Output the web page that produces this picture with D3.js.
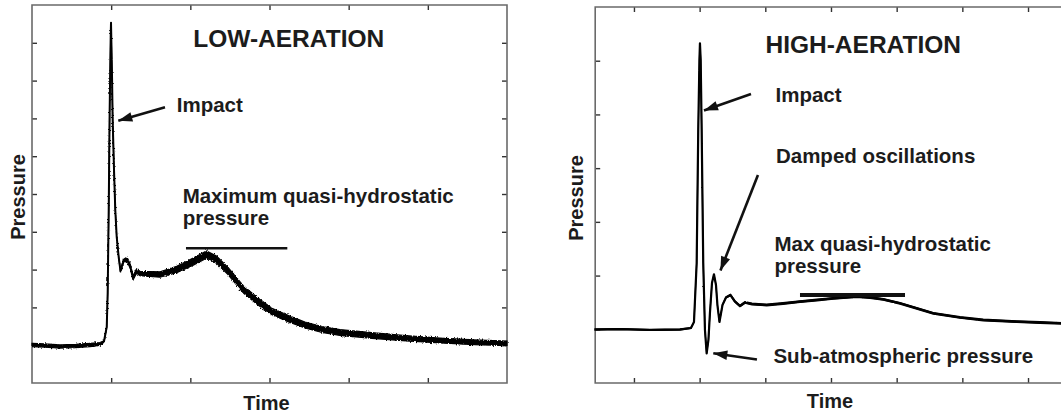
<!DOCTYPE html>
<html>
<head>
<meta charset="utf-8">
<script src="https://cdn.jsdelivr.net/npm/d3@7"></script>
<style>
  body { margin: 0; background: #fff; }
  svg text { font-family: "Liberation Sans", Arial, Helvetica, sans-serif; font-weight: bold; fill: #1c1c1c; }
</style>
</head>
<body>
<svg id="chart" width="1061" height="416"></svg>
<script>
// ---- Low-aeration pressure record (arbitrary units) ----
const lowTime = [0, 0.164, 0.354, 0.543, 0.733, 0.859, 0.909, 0.944, 0.956, 0.969, 0.981, 0.994, 0.998,
  1.011, 1.019, 1.036, 1.052, 1.070, 1.095, 1.118, 1.156, 1.200, 1.244, 1.276, 1.320, 1.364, 1.490, 1.617,
  1.828, 2.037, 2.204, 2.330, 2.476, 2.671, 2.855, 3.031, 3.234, 3.448, 3.663, 3.890, 4.294, 4.724, 5.153,
  5.583, 6.0];
const lowPressure = [1.005, 0.992, 0.966, 0.979, 1.005, 1.032, 1.098, 1.481, 2.381, 4.577, 7.222, 9.153, 9.532,
  8.095, 6.958, 5.635, 4.577, 3.862, 3.333, 2.963, 3.228, 3.280, 3.069, 2.778, 2.963, 2.897, 2.884, 2.870,
  3.003, 3.214, 3.399, 3.267, 2.963, 2.474, 2.156, 1.892, 1.706, 1.534, 1.415, 1.336, 1.257, 1.183, 1.124,
  1.077, 1.050];
// width of the measurement noise band around the trace
const lowSpread = [0.085, 0.085, 0.085, 0.085, 0.085, 0.075, 0.04, 0, 0, 0, 0, 0, 0,
  0, 0, 0, 0, 0, 0, 0.07, 0.09, 0.10, 0.11, 0.11, 0.115, 0.12, 0.13, 0.145,
  0.17, 0.19, 0.19, 0.19, 0.19, 0.19, 0.18, 0.17, 0.165, 0.16, 0.16, 0.155, 0.15, 0.14, 0.13,
  0.125, 0.12];
const lowTicksX = [1, 2, 3, 4, 5];
const lowTicksY = [1, 2, 3, 4, 5, 6, 7, 8, 9];

// ---- High-aeration pressure record (arbitrary units) ----
const highTime = [0.406, 0.787, 1.244, 1.700, 1.868, 1.914, 1.955, 1.979, 1.997, 2.005, 2.016, 2.031, 2.055,
  2.081, 2.107, 2.134, 2.157, 2.188, 2.218, 2.249, 2.271, 2.302, 2.348, 2.401, 2.470, 2.538, 2.614, 2.690,
  2.797, 3.021, 3.269, 3.528, 3.787, 4.035, 4.391, 4.594, 4.796, 5.051, 5.305, 5.558, 5.964, 6.319, 6.828,
  7.183, 7.502];
const highPressure = [0.996, 1.005, 0.987, 0.996, 1.024, 1.136, 2.234, 4.711, 6.014, 6.325, 6.014, 4.711, 2.234,
  0.987, 0.553, 0.801, 1.303, 1.862, 2.024, 1.825, 1.452, 1.136, 1.452, 1.592, 1.638, 1.517, 1.434, 1.499,
  1.471, 1.452, 1.480, 1.514, 1.545, 1.577, 1.607, 1.592, 1.558, 1.484, 1.391, 1.298, 1.220, 1.173, 1.141,
  1.126, 1.112];
const highSpread = [0.02, 0.02, 0.02, 0.02, 0.015, 0, 0, 0, 0, 0, 0, 0, 0,
  0, 0, 0, 0, 0, 0, 0, 0, 0, 0.01, 0.02, 0.025, 0.03, 0.03, 0.03,
  0.03, 0.03, 0.03, 0.03, 0.03, 0.03, 0.03, 0.03, 0.03, 0.03, 0.03, 0.03, 0.03, 0.03, 0.03,
  0.03, 0.03];
const highTicksX = [1, 2, 3, 4, 5, 6, 7];
const highTicksY = [1, 2, 3, 4, 5, 6];

// ---- Annotation text, arrows and reference bars (data units) ----
const lowLabels = [
  { text: "LOW-AERATION", t: 2.037, p: 8.897, size: 24.5 },
  { text: "Impact", t: 1.828, p: 7.177, size: 20.5 },
  { text: "Maximum quasi-hydrostatic", t: 1.903, p: 4.754, size: 20.5 },
  { text: "pressure", t: 1.903, p: 4.193, size: 20.5 }
];
const lowArrows = [{ t0: 1.680, p0: 7.294, t1: 1.090, p1: 6.939 }];
const lowBars = [{ t0: 1.945, t1: 3.225, p: 3.563, w: 2.6 }];

const highLabels = [
  { text: "HIGH-AERATION", t: 3.002, p: 6.138, size: 24.5 },
  { text: "Impact", t: 3.155, p: 5.237, size: 20.5 },
  { text: "Damped oscillations", t: 3.162, p: 4.090, size: 20.5 },
  { text: "Max quasi-hydrostatic", t: 3.139, p: 2.463, size: 20.5 },
  { text: "pressure", t: 3.139, p: 2.039, size: 20.5 },
  { text: "Sub-atmospheric pressure", t: 3.124, p: 0.367, size: 20.5 }
];
const highArrows = [
  { t0: 2.782, p0: 5.380, t1: 2.066, p1: 5.074 },
  { t0: 2.888, p0: 3.873, t1: 2.317, p1: 2.095 },
  { t0: 2.873, p0: 0.438, t1: 2.208, p1: 0.553 }
];
const highBars = [{ t0: 3.528, t1: 5.127, p: 1.638, w: 4 }];

const svg = d3.select("#chart");
const defs = svg.append("defs");

// filled arrowhead
defs.append("marker")
  .attr("id", "head")
  .attr("markerUnits", "userSpaceOnUse")
  .attr("viewBox", "-15 -6 16 12")
  .attr("refX", 0).attr("refY", 0)
  .attr("markerWidth", 16).attr("markerHeight", 12)
  .attr("orient", "auto")
  .append("path")
  .attr("d", "M0,0 L-14,-4.8 L-14,4.8 Z")
  .attr("fill", "#111");

// ragged edge for the sampled-noise band
function roughFilter(id, scale) {
  const f = defs.append("filter").attr("id", id)
    .attr("x", "-2%").attr("y", "-10%").attr("width", "104%").attr("height", "120%");
  f.append("feTurbulence").attr("type", "fractalNoise").attr("baseFrequency", "0.8 0.6")
    .attr("numOctaves", 2).attr("seed", 7).attr("result", "n");
  f.append("feDisplacementMap").attr("in", "SourceGraphic").attr("in2", "n")
    .attr("scale", scale).attr("xChannelSelector", "R").attr("yChannelSelector", "G");
}
roughFilter("roughLow", 3.2);
roughFilter("roughHigh", 1.6);

function drawPanel(cfg) {
  const g = svg.append("g");
  const x = d3.scaleLinear().domain(cfg.xDomain).range(cfg.xRange);
  const y = d3.scaleLinear().domain(cfg.yDomain).range(cfg.yRange);
  const [x0, x1] = cfg.xRange;
  const [yb, yt] = cfg.yRange;

  // inward ticks on the frame sides
  const tick = 5;
  const axes = [
    { ax: d3.axisBottom(x).tickValues(cfg.ticksX), tr: `translate(0,${yb})` },
    { ax: d3.axisTop(x).tickValues(cfg.ticksX), tr: `translate(0,${yt})` },
    { ax: d3.axisLeft(y).tickValues(cfg.ticksY), tr: `translate(${x0},0)` }
  ];
  if (cfg.rightTicks) axes.push({ ax: d3.axisRight(y).tickValues(cfg.ticksY), tr: `translate(${x1},0)` });
  axes.forEach(a => {
    const s = g.append("g").attr("transform", a.tr)
      .call(a.ax.tickSize(-tick).tickFormat(""));
    s.select(".domain").remove();
    s.selectAll("line").attr("stroke", "#333").attr("stroke-width", 1.4);
  });

  // frame
  const frame = g.append("path")
    .attr("fill", "none").attr("stroke", "#6a6a6a").attr("stroke-width", 1.6);
  if (cfg.rightTicks) {
    frame.attr("d", `M${x0},${yt}H${x1}V${yb}H${x0}Z`);
  } else {
    frame.attr("d", `M${x1},${yt}H${x0}V${yb}H${x1}`);
  }

  // trace: noise band plus the centre line
  const pts = cfg.time.map((t, i) => ({ t, p: cfg.pressure[i], s: cfg.spread[i] }));
  g.append("path").datum(pts)
    .attr("fill", "#000")
    .attr("stroke", "#000").attr("stroke-width", 1.2)
    .attr("filter", `url(#${cfg.rough})`)
    .attr("d", d3.area().x(d => x(d.t)).y0(d => y(d.p - d.s / 2)).y1(d => y(d.p + d.s / 2)));
  g.append("path").datum(pts)
    .attr("fill", "none").attr("stroke", "#000").attr("stroke-width", cfg.lineWidth)
    .attr("stroke-linejoin", "round")
    .attr("d", d3.line().x(d => x(d.t)).y(d => y(d.p)));

  // reference bars
  g.selectAll(null).data(cfg.bars).enter().append("line")
    .attr("x1", d => x(d.t0)).attr("x2", d => x(d.t1))
    .attr("y1", d => y(d.p)).attr("y2", d => y(d.p))
    .attr("stroke", "#111").attr("stroke-width", d => d.w);

  // arrows
  g.selectAll(null).data(cfg.arrows).enter().append("line")
    .attr("x1", d => x(d.t0)).attr("y1", d => y(d.p0))
    .attr("x2", d => x(d.t1)).attr("y2", d => y(d.p1))
    .attr("stroke", "#111").attr("stroke-width", 2.6)
    .attr("marker-end", "url(#head)");

  // annotation text
  g.selectAll(null).data(cfg.labels).enter().append("text")
    .attr("x", d => x(d.t)).attr("y", d => y(d.p))
    .style("font-size", d => d.size + "px")
    .text(d => d.text);

  // axis titles
  g.append("text")
    .attr("transform", `translate(${cfg.yTitleX},${cfg.yTitleY}) rotate(-90)`)
    .attr("text-anchor", "middle").style("font-size", "20px")
    .text("Pressure");
  g.append("text")
    .attr("x", cfg.xTitleX).attr("y", cfg.xTitleY)
    .attr("text-anchor", "middle").style("font-size", "20px")
    .text("Time");
}

drawPanel({
  xDomain: [0, 6], xRange: [32, 507],
  yDomain: [0, 10], yRange: [383, 5],
  ticksX: lowTicksX, ticksY: lowTicksY, rightTicks: true,
  time: lowTime, pressure: lowPressure, spread: lowSpread, lineWidth: 2, rough: "roughLow",
  labels: lowLabels, arrows: lowArrows, bars: lowBars,
  yTitleX: 25, yTitleY: 197, xTitleX: 266.5, xTitleY: 410
});

drawPanel({
  xDomain: [0.41, 7.7], xRange: [595.2, 1074],
  yDomain: [0, 7], yRange: [383, 7],
  ticksX: highTicksX, ticksY: highTicksY, rightTicks: false,
  time: highTime, pressure: highPressure, spread: highSpread, lineWidth: 2.2, rough: "roughHigh",
  labels: highLabels, arrows: highArrows, bars: highBars,
  yTitleX: 583, yTitleY: 198, xTitleX: 830, xTitleY: 408
});
</script>
</body>
</html>
